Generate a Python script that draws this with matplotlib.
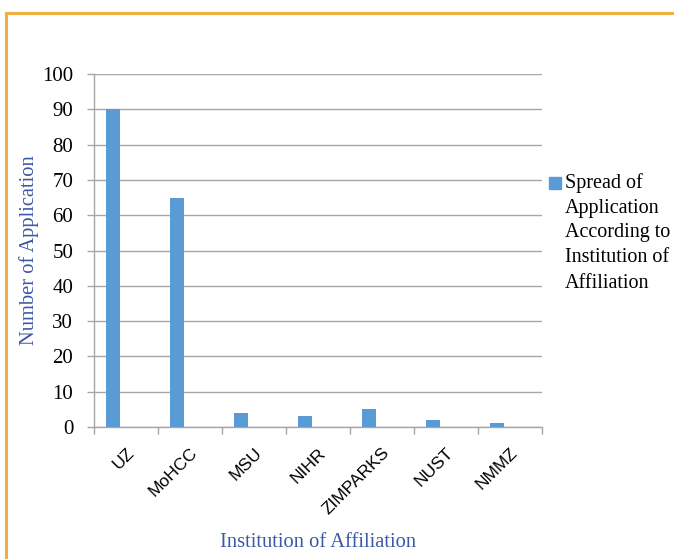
import matplotlib.pyplot as plt
from matplotlib.lines import Line2D
from matplotlib.patches import Rectangle

institutions = ["UZ", "MoHCC", "MSU", "NIHR", "ZIMPARKS", "NUST", "NMMZ"]
applications = [90, 65, 4, 3, 5, 2, 1]
y_ticks = [0, 10, 20, 30, 40, 50, 60, 70, 80, 90, 100]
legend_lines = ["Spread of", "Application", "According to", "Institution of", "Affiliation"]

serif = ["Liberation Serif", "DejaVu Serif"]
blue_txt = "#3b58a4"
bar_col = "#5b9bd5"
grid_col = "#a6a6a6"
W, H = 674, 559

fig = plt.figure(figsize=(W / 100, H / 100), dpi=100)
ax = fig.add_axes([94 / W, 1 - 427 / H, 448 / W, 353 / H])

pos = list(range(len(institutions)))
# Excel leaves room for a second series, so bars sit left of the centre
ax.bar([p - 0.21 for p in pos], applications, width=0.22, color=bar_col, zorder=3)

ax.set_xlim(-0.5, len(institutions) - 0.5)
ax.set_ylim(0, 100)
ax.set_yticks(y_ticks)
ax.set_yticklabels([str(v) for v in y_ticks], fontfamily=serif, fontsize=15)
ax.yaxis.grid(True, color=grid_col, linewidth=1, zorder=0)

# x ticks at category boundaries, labels at centres
ax.set_xticks([p - 0.5 for p in pos] + [len(pos) - 0.5])
ax.set_xticklabels([])
ax.set_xticks(pos, minor=True)
ax.set_xticklabels(institutions, minor=True, rotation=45, ha="right",
                   rotation_mode="anchor", fontfamily="Liberation Sans", fontsize=12.5)
ax.tick_params(axis="x", which="minor", length=0, pad=13)
ax.tick_params(axis="x", which="major", length=5, color=grid_col, width=1)
ax.tick_params(axis="y", length=5, color=grid_col, width=1, pad=10)

for s in ["top", "right"]:
    ax.spines[s].set_visible(False)
for s in ["left", "bottom"]:
    ax.spines[s].set_color(grid_col)
    ax.spines[s].set_linewidth(1)

ax.set_xlabel("Institution of Affiliation", fontfamily=serif, fontsize=14.8,
              color=blue_txt, labelpad=11)
ax.set_ylabel("Number of Application", fontfamily=serif, fontsize=14.8,
              color=blue_txt, labelpad=2)

# legend: square beside the first line of a wrapped label
fig.add_artist(Rectangle((549 / W, 1 - 189 / H), 12 / W, 12 / H, color=bar_col,
                         transform=fig.transFigure))
for i, line in enumerate(legend_lines):
    fig.text(565 / W, 1 - (183 + 25 * i) / H, line, fontfamily=serif,
             fontsize=14.5, va="center", ha="left")

# orange border of the chart area
bx, by = 6 / W, 1 - 13 / H
fig.add_artist(Line2D([bx, 1], [by, by], color="#f0b040", linewidth=2.2,
                      transform=fig.transFigure))
fig.add_artist(Line2D([bx, bx], [0, by], color="#f0b040", linewidth=2.2,
                      transform=fig.transFigure))

fig.savefig("out.png", dpi=100)
